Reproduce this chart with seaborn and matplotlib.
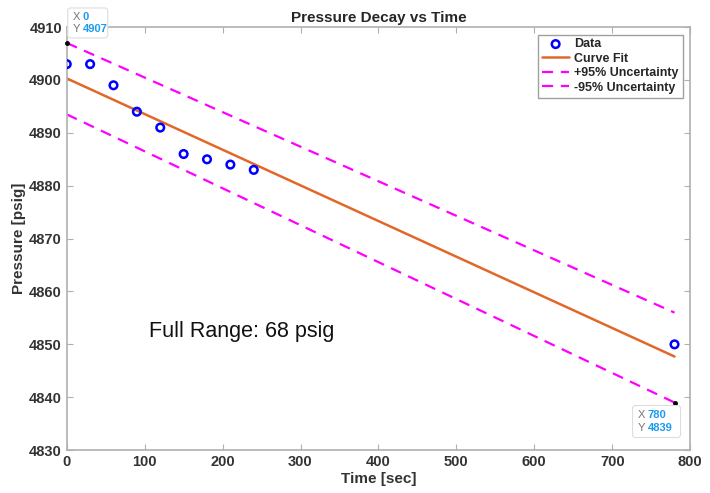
import matplotlib
matplotlib.use("Agg")
from matplotlib import pyplot as plt
from matplotlib.patches import FancyBboxPatch
from matplotlib.transforms import ScaledTranslation
import numpy as np
import pandas as pd
import seaborn as sns

# --- data
time_sec = [0, 30, 60, 90, 120, 150, 180, 210, 240, 780]
pressure = [4903, 4903, 4899, 4894, 4891, 4886, 4885, 4884, 4883, 4850]

fit_x = [0, 780]
fit_y = [4900.3, 4847.7]
upper_y = [4907, 4856]
lower_y = [4893.5, 4839]

# data tips: point, box (x0, y0, w, h) in inches relative to the point
tips = [(0, 4907, (0.01, 0.05, 0.40, 0.30)), (780, 4839, (-0.42, -0.35, 0.48, 0.32))]

df = pd.DataFrame({'Time': time_sec, 'Pressure': pressure})
lines = pd.DataFrame({'Time': fit_x, 'fit': fit_y, 'up': upper_y, 'lo': lower_y})

sns.set_style('white')
plt.rcParams['font.family'] = ['Liberation Sans', 'DejaVu Sans']

fig = plt.figure(figsize=(7.10, 4.93), dpi=100)
ax = fig.add_axes([0.094, 0.087, 0.878, 0.858])

sns.scatterplot(data=df, x='Time', y='Pressure', ax=ax, marker='o', s=30,
                facecolors='none', edgecolor='#0000ff', linewidth=1.8, label='Data', zorder=3)
sns.lineplot(data=lines, x='Time', y='fit', ax=ax, color='#e2672a', linewidth=1.8, label='Curve Fit')
sns.lineplot(data=lines, x='Time', y='up', ax=ax, color='#ff00ff', linewidth=1.6,
             label='+95% Uncertainty')
sns.lineplot(data=lines, x='Time', y='lo', ax=ax, color='#ff00ff', linewidth=1.6,
             label='-95% Uncertainty')
ax.lines[-1].set_linestyle((0, (5, 3.5)))
ax.lines[-2].set_linestyle((0, (5, 3.5)))

ax.set_xlim(0, 800)
ax.set_ylim(4830, 4910)
ax.set_xticks(range(0, 801, 100))
ax.set_yticks(range(4830, 4911, 10))
ax.tick_params(direction='in', length=4, color='#b0b0b0', labelsize=10.5)
for t in ax.get_xticklabels() + ax.get_yticklabels():
    t.set_fontweight('bold')
    t.set_color('#333333')
for s in ax.spines.values():
    s.set_color('#b0b0b0')
    s.set_linewidth(1.2)
ax.tick_params(top=True, right=True, bottom=True, left=True)

ax.set_xlabel('Time [sec]', fontsize=11, fontweight='bold', color='#333333', labelpad=2)
ax.set_ylabel('Pressure [psig]', fontsize=11, fontweight='bold', color='#333333', labelpad=2)
ax.set_title('Pressure Decay vs Time', fontsize=11, fontweight='bold', pad=4)

ax.text(105, 4852.5, 'Full Range: 68 psig', fontsize=15.5, color='#111111', va='center')

# data tips
for px, py, (bx, by, bw, bh) in tips:
    ax.plot(px, py, 'o', color='black', markersize=2.5, zorder=5, clip_on=False)
    tr = fig.dpi_scale_trans + ScaledTranslation(px, py, ax.transData)
    box = FancyBboxPatch((bx, by), bw, bh, boxstyle='round,pad=0,rounding_size=0.03',
                         transform=tr, fc='white', ec='#dddddd', lw=0.8, zorder=6, clip_on=False)
    ax.add_patch(box)
    tx = bx + 0.05
    for i, (lab, val) in enumerate([('X', px), ('Y', py)]):
        ty = by + bh * (0.7 if i == 0 else 0.3)
        ax.text(tx, ty, lab, transform=tr, fontsize=8, color='#777777',
                va='center', ha='left', zorder=7, clip_on=False)
        ax.text(tx + 0.10, ty, str(val), transform=tr, fontsize=8, color='#1a9af0',
                fontweight='bold', va='center', ha='left', zorder=7, clip_on=False)

leg = ax.legend(loc='upper right', frameon=True, fontsize=9, handlelength=2.2,
                borderaxespad=0.6, labelspacing=0.2, borderpad=0.3, handletextpad=0.4,
                fancybox=False)
leg.get_frame().set_edgecolor('#888888')
for t in leg.get_texts():
    t.set_fontweight('bold')

fig.savefig('out.png', dpi=100)
